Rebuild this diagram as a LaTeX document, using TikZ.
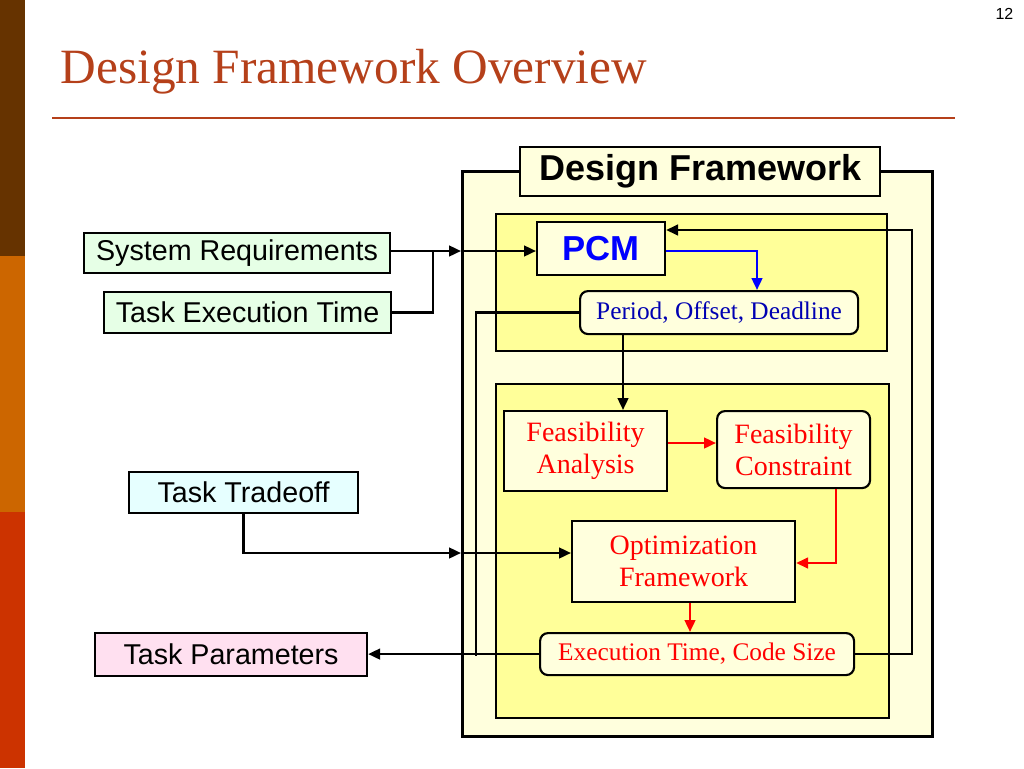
\documentclass[tikz,border=0pt]{standalone}
\usepackage{fontspec}
\setmainfont{Liberation Serif}
\newfontfamily\sans{Liberation Sans}
\usetikzlibrary{arrows.meta}
\definecolor{lyel}{HTML}{FFFFDD}
\definecolor{myel}{HTML}{FFFF99}
\definecolor{titc}{HTML}{B5401A}
\begin{document}
\begin{tikzpicture}[x=0.75pt,y=-0.75pt,
 box/.style={draw=black,line width=1.6pt,inner sep=0pt,anchor=north west},
 sbox/.style={box,font=\sans\fontsize{21.5}{24}\selectfont,align=center},
 rbox/.style={box,fill=lyel,font=\fontsize{21}{24}\selectfont,align=center},
 con/.style={line width=1.8pt,-{Triangle[length=9pt,width=8pt]}},
 pl/.style={line width=1.8pt}]
\useasboundingbox (0,0) rectangle (1024,768);
\fill[fill={rgb,255:red,102;green,51;blue,0}] (0,0) rectangle (25,256);
\fill[fill={rgb,255:red,204;green,102;blue,0}] (0,256) rectangle (25,512);
\fill[fill={rgb,255:red,204;green,51;blue,0}] (0,512) rectangle (25,768);
\node[anchor=west,text=titc,font=\fontsize{37}{42}\selectfont] (title) at (56,72) {Design Framework Overview};
\draw[titc,line width=1.2pt] (52,118) -- (955,118);
\node[anchor=north east,font=\sans\fontsize{12}{14}\selectfont] (pg) at (1018,4) {12};
% frames
\node[box,fill=lyel,minimum width=470*0.75pt,minimum height=565*0.75pt,line width=2.2pt] (outer) at (461,170) {};
\node[box,fill=lyel,minimum width=360*0.75pt,minimum height=49*0.75pt,font=\sans\bfseries\fontsize{27}{30}\selectfont] (dft) at (519,146) {Design Framework};
\node[box,fill=myel,minimum width=391*0.75pt,minimum height=137*0.75pt] (in1) at (495,213) {};
\node[box,fill=myel,minimum width=393*0.75pt,minimum height=334*0.75pt] (in2) at (495,383) {};
% nodes
\node[box,fill=lyel,minimum width=128*0.75pt,minimum height=53*0.75pt,text=blue,font=\sans\bfseries\fontsize{26}{28}\selectfont] (pcm) at (536,221) {PCM};
\node[rbox,rounded corners=6pt,minimum width=278*0.75pt,minimum height=43*0.75pt,text=blue!70!black,font=\fontsize{19}{22}\selectfont] (pod) at (579,290) {Period, Offset, Deadline};
\node[rbox,minimum width=163*0.75pt,minimum height=80*0.75pt,text=red] (fa) at (503,410) {Feasibility\\Analysis};
\node[rbox,rounded corners=6pt,minimum width=153*0.75pt,minimum height=77*0.75pt,text=red] (fc) at (716,410) {Feasibility\\Constraint};
\node[rbox,minimum width=223*0.75pt,minimum height=81*0.75pt,text=red] (opt) at (571,520) {Optimization\\Framework};
\node[rbox,rounded corners=6pt,minimum width=314*0.75pt,minimum height=42*0.75pt,text=red,font=\fontsize{19}{22}\selectfont] (ex) at (539,632) {Execution Time, Code Size};
\node[sbox,fill={rgb,255:red,230;green,255;blue,230},minimum width=306*0.75pt,minimum height=40*0.75pt] (sr) at (83,232) {System Requirements};
\node[sbox,fill={rgb,255:red,230;green,255;blue,230},minimum width=287*0.75pt,minimum height=41*0.75pt] (tet) at (103,291) {Task Execution Time};
\node[sbox,fill={rgb,255:red,230;green,255;blue,255},minimum width=229*0.75pt,minimum height=41*0.75pt] (tt) at (128,471) {Task Tradeoff};
\node[sbox,fill={rgb,255:red,255;green,224;blue,240},minimum width=272*0.75pt,minimum height=43*0.75pt] (tp) at (94,632) {Task Parameters};
% coordinates
\coordinate (a1) at (461,251);
\coordinate (j1) at (433,251);
\coordinate (a2) at (461,553);
\coordinate (v1) at (476,314);
\coordinate (v2) at (476,656);
% connectors
\draw[con] (sr.east |- a1) -- (a1);
\draw[con] (a1) -- (pcm.west |- a1);
\draw[pl] (tet.east) -| (j1);
\draw[con,blue] (pcm.east |- 0,251) -| (pod.north -| 757,0);
\draw[pl] (pod.west) -| (v1) -- (v2);
\draw[con] (ex.west) -- (tp.east |- ex.west);
\draw[con] (pod.south -| 623,0) -- (fa.north -| 623,0);
\draw[con] (ex.east) -| (912,230) -- (pcm.east |- 0,230);
\draw[con] (tt.south) |- (a2);
\draw[con] (a2) -- (opt.west |- a2);
\draw[con,red] (fa.east |- 0,443) -- (fc.west |- 0,443);
\draw[con,red] (fc.south -| 836,0) |- (opt.east |- 0,563);
\draw[con,red] (opt.south -| 690,0) -- (ex.north -| 690,0);
\end{tikzpicture}
\end{document}
